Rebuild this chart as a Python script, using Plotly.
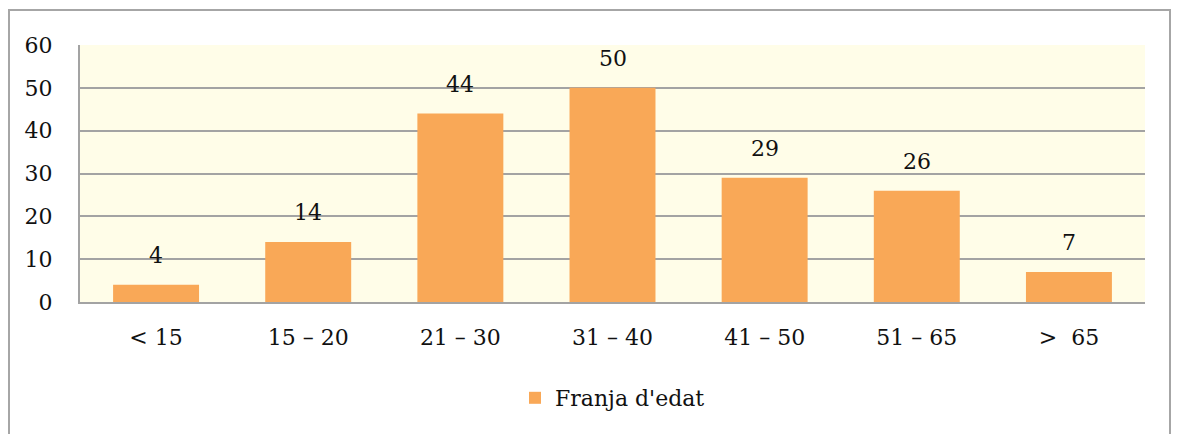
import plotly.graph_objects as go

categories = ["< 15", "15 – 20", "21 – 30", "31 – 40", "41 – 50", "51 – 65", ">  65"]
values = [4, 14, 44, 50, 29, 26, 7]
series_name = "Franja d'edat"
y_ticks = [0, 10, 20, 30, 40, 50, 60]

FONT = "DejaVu Serif, Liberation Serif, serif"
FS = 22
BAR = "#F9A857"
GRID = "#A3A3A3"

OFF = 8  # page body margin
W, H = 1172, 426
# target page-pixel positions of plot area
PL, PR, PT, PB = 80, 1145, 45, 302
L, T = PL - OFF, PT - OFF
R = W - (PR - OFF)
B = H - (PB - OFF)
pw, ph = W - L - R, H - T - B
def px_x(p): return (p - OFF - L) / pw
def px_y(p): return (H - B - (p - OFF)) / ph

fig = go.Figure()
fig.add_trace(go.Bar(x=categories, y=values, name=series_name,
                     marker=dict(color=BAR, line=dict(width=0)),
                     showlegend=True))

for c, v in zip(categories, values):
    fig.add_annotation(x=c, y=v, text=str(v), showarrow=False,
                       yanchor="bottom", yshift=15,
                       font=dict(family=FONT, size=FS, color="#111"))

fig.add_shape(type="rect", xref="paper", yref="paper",
              x0=px_x(9), x1=px_x(1170), y0=px_y(480), y1=px_y(10),
              line=dict(color="#A6A6A6", width=2), fillcolor="rgba(0,0,0,0)", layer="below")

fig.update_layout(
    width=W, height=H,
    margin=dict(l=L, r=R, t=T, b=B, autoexpand=False),
    paper_bgcolor="white",
    plot_bgcolor="#FFFDE8",
    bargap=0.435,
    font=dict(family=FONT, size=FS, color="#111"),
    xaxis=dict(showgrid=False, showline=True, linecolor=GRID, linewidth=2,
               ticks="outside", ticklen=15, tickcolor="rgba(0,0,0,0)",
               tickfont=dict(family=FONT, size=FS)),
    yaxis=dict(range=[0, 60], tickvals=y_ticks, showgrid=True, gridcolor=GRID, gridwidth=2,
               showline=True, linecolor=GRID, linewidth=2, zeroline=False,
               ticks="outside", ticklen=21, tickcolor="rgba(0,0,0,0)",
               tickfont=dict(family=FONT, size=FS)),
    legend=dict(orientation="h", x=0.5, xanchor="center", y=px_y(398), yanchor="middle",
                font=dict(family=FONT, size=FS), itemwidth=30),
)

fig.write_html("out.html")
